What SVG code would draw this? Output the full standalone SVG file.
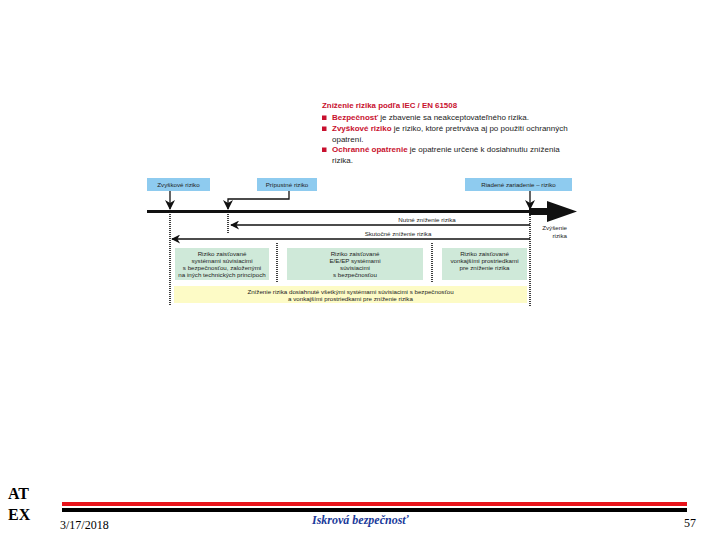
<svg xmlns="http://www.w3.org/2000/svg" width="720" height="540" viewBox="0 0 720 540">
<style>
.t{font-family:"Liberation Sans",Arial,sans-serif;fill:#222}
.s{font-size:6.2px}
.c{text-anchor:middle}
.red{fill:#c8102e;font-weight:bold}
.blue{fill:#8ecbef}
.green{fill:#cfe9d9}
.ln{stroke:#111;fill:none}
.dot{stroke:#111;stroke-width:1.6;stroke-dasharray:1 1;fill:none}
.ft{font-family:"Liberation Serif","Times New Roman",serif}
</style>
<defs>
<marker id="ah" viewBox="0 0 10 10" refX="9" refY="5" markerWidth="11" markerHeight="9" markerUnits="userSpaceOnUse" orient="auto">
<path d="M0,0 L10,5 L0,10 L3,5 Z" fill="#111"/>
</marker>
<marker id="ahl" viewBox="0 0 10 10" refX="9" refY="5" markerWidth="10" markerHeight="10" markerUnits="userSpaceOnUse" orient="auto">
<path d="M0,0 L10,5 L0,10 L3,5 Z" fill="#111"/>
</marker>
</defs>

<g id="legend" class="t">
<text x="322" y="108" font-size="7.9" class="t red">Zníženie rizika podľa IEC / EN 61508</text>
<rect x="322" y="115.5" width="4.5" height="4.5" fill="#c8102e"/>
<text x="332" y="120" font-size="8"><tspan class="red">Bezpečnosť</tspan> je zbavenie sa neakceptovateľného rizika.</text>
<rect x="322" y="126.5" width="4.5" height="4.5" fill="#c8102e"/>
<text x="332" y="131" font-size="8"><tspan class="red">Zvyškové riziko</tspan> je riziko, ktoré pretrváva aj po použití ochranných</text>
<text x="332" y="141.5" font-size="8">opatrení.</text>
<rect x="322" y="147.5" width="4.5" height="4.5" fill="#c8102e"/>
<text x="332" y="152" font-size="8"><tspan class="red">Ochranné opatrenie</tspan> je opatrenie určené k dosiahnutiu zníženia</text>
<text x="332" y="162.5" font-size="8">rizika.</text>
</g>

<g id="zvyskove">
<rect x="147" y="178" width="63" height="13" class="blue"/>
<text x="178.5" y="187" class="t s c">Zvyškové riziko</text>
</g>
<g id="pripustne">
<rect x="257" y="178" width="60" height="13" class="blue"/>
<text x="287" y="187" class="t s c">Prípustné riziko</text>
</g>
<g id="riadene">
<rect x="465" y="178" width="107" height="13" class="blue"/>
<text x="518.5" y="187" class="t s c">Riadené zariadenie – riziko</text>
</g>

<g id="box1">
<rect x="175" y="248" width="94" height="32" class="green"/>
<text class="t s c" x="222" y="255.5">Riziko zaisťované</text>
<text class="t s c" x="222" y="262.5">systémami súvisiacimi</text>
<text class="t s c" x="222" y="269.5">s bezpečnosťou, založenými</text>
<text class="t s c" x="222" y="276.5">na iných technických princípoch</text>
</g>
<g id="box2">
<rect x="287" y="248" width="136" height="32" class="green"/>
<text class="t s c" x="355" y="255.5">Riziko zaisťované</text>
<text class="t s c" x="355" y="262.5">E/E/EP systémami</text>
<text class="t s c" x="355" y="269.5">súvisiacimi</text>
<text class="t s c" x="355" y="276.5">s bezpečnosťou</text>
</g>
<g id="box3">
<rect x="442" y="248" width="85" height="32" class="green"/>
<text class="t s c" x="484.5" y="256">Riziko zaisťované</text>
<text class="t s c" x="484.5" y="263">vonkajšími prostriedkami</text>
<text class="t s c" x="484.5" y="270">pre zníženie rizika</text>
</g>
<g id="yellow">
<rect x="174" y="286" width="353" height="17" fill="#fdfbc6"/>
<text class="t s c" x="350.5" y="293.5">Zníženie rizika dosiahnuté všetkými systémami súvisiacimi s bezpečnosťou</text>
<text class="t s c" x="350.5" y="300.5">a vonkajšími prostriedkami pre zníženie rizika</text>
</g>

<g id="connectors">
<line x1="147" y1="211.5" x2="531" y2="211.5" stroke="#111" stroke-width="3"/>
<path d="M529,208 L547,208 L547,201 L577,211.5 L547,222 L547,215 L529,215 Z" fill="#111"/>
<line x1="170" y1="191" x2="170" y2="209" class="ln" stroke-width="1.3" marker-end="url(#ahl)"/>
<polyline points="289,191 289,199 228,199 228,209" class="ln" stroke-width="1.3" marker-end="url(#ahl)"/>
<line x1="530" y1="191" x2="530" y2="209" class="ln" stroke-width="1.3" marker-end="url(#ahl)"/>
<line x1="170" y1="214" x2="170" y2="306" class="dot"/>
<line x1="228" y1="214" x2="228" y2="233" class="dot"/>
<line x1="530" y1="215" x2="530" y2="306" class="dot"/>
<line x1="277" y1="243" x2="277" y2="282" class="dot"/>
<line x1="432" y1="243" x2="432" y2="282" class="dot"/>
<line x1="530" y1="225" x2="231" y2="225" class="ln" stroke-width="1.3" marker-end="url(#ah)"/>
<line x1="530" y1="239" x2="172" y2="239" class="ln" stroke-width="1.3" marker-end="url(#ah)"/>
<text x="427" y="222" class="t s c">Nutné zníženie rizika</text>
<text x="398" y="236" class="t s c">Skutočné zníženie rizika</text>
<text x="567" y="230" class="t s" text-anchor="end">Zvýšenie</text>
<text x="567" y="238" class="t s" text-anchor="end">rizika</text>
</g>

<g id="footer">
<text x="8" y="499" class="ft" font-size="16" font-weight="bold" fill="#000">AT</text>
<text x="8" y="520" class="ft" font-size="16" font-weight="bold" fill="#000">EX</text>
<rect x="62" y="502" width="625" height="4" fill="#e8131a"/>
<rect x="62" y="508" width="625" height="4" fill="#000"/>
<text x="60" y="529" class="ft" font-size="12" fill="#000">3/17/2018</text>
<text x="312" y="524" class="ft" font-size="12" font-style="italic" font-weight="bold" fill="#1a3a9a">Iskrová bezpečnosť</text>
<text x="684" y="527" class="ft" font-size="12" fill="#000">57</text>
</g>
</svg>
